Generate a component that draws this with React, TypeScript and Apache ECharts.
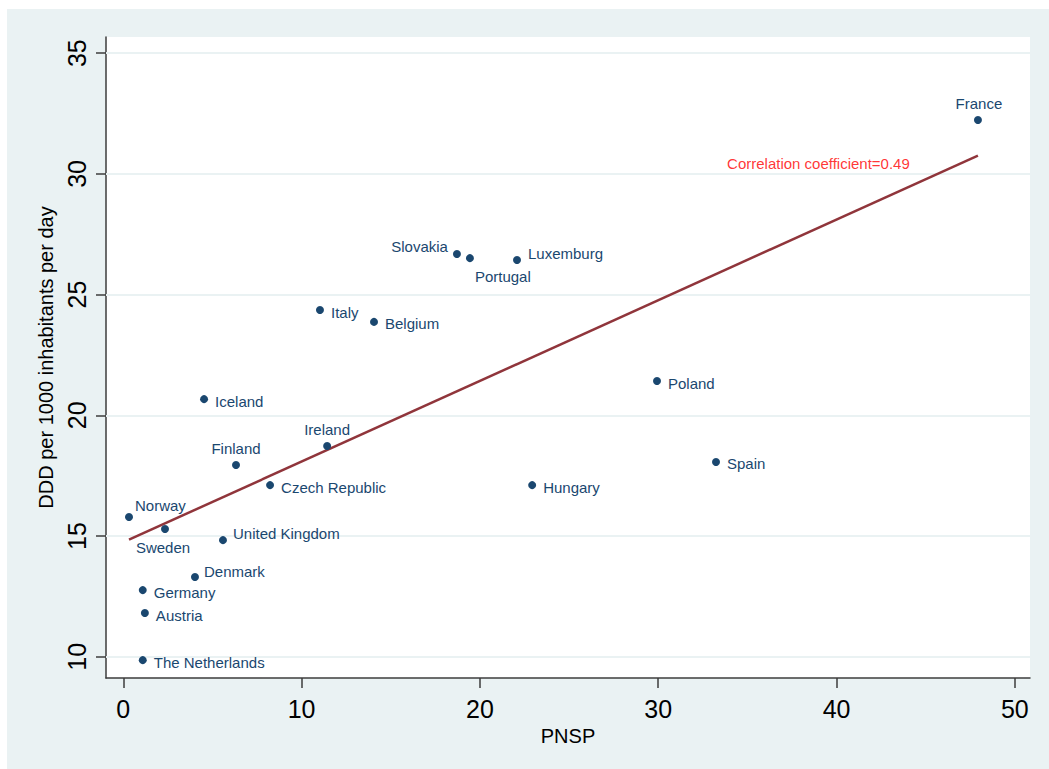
import React, { useEffect, useRef } from "react";
import * as echarts from "echarts";

// ---- data ----
const countries = [
  "France", "Slovakia", "Portugal", "Luxemburg", "Italy", "Belgium", "Poland",
  "Iceland", "Ireland", "Finland", "Spain", "Czech Republic", "Hungary",
  "Norway", "Sweden", "United Kingdom", "Denmark", "Germany", "Austria",
  "The Netherlands",
];
const pnsp = [
  47.93, 18.71, 19.44, 22.08, 11.03, 14.06, 29.93,
  4.53, 11.43, 6.32, 33.24, 8.23, 22.93,
  0.32, 2.34, 5.59, 4.02, 1.09, 1.21,
  1.09,
];
const ddd = [
  32.23, 26.68, 26.51, 26.43, 24.36, 23.87, 21.42,
  20.67, 18.73, 17.94, 18.07, 17.11, 17.11,
  15.79, 15.29, 14.83, 13.30, 12.76, 11.81,
  9.86,
];
// fitted regression line (endpoints in data units)
const fitX = [0.32, 47.93];
const fitY = [14.85, 30.76];
const xTicks = [0, 10, 20, 30, 40, 50];
const yTicks = [10, 15, 20, 25, 30, 35];
const annotationText = "Correlation coefficient=0.49";
const annotationAt = [33.86, 30.45];

// ---- label styling (placement per country) ----
const labelPlacement: Record<string, { position: string; offset: number[] }> = {
  France: { position: "top", offset: [1, 0] },
  Slovakia: { position: "left", offset: [0, -8] },
  Portugal: { position: "right", offset: [-4, 18] },
  Luxemburg: { position: "right", offset: [2, -7] },
  Ireland: { position: "top", offset: [0, 0] },
  Finland: { position: "top", offset: [0, 0] },
  Norway: { position: "right", offset: [-3, -11] },
  Sweden: { position: "bottom", offset: [-2, 2] },
  "United Kingdom": { position: "right", offset: [1, -7] },
  Denmark: { position: "right", offset: [0, -6] },
};

const NAVY = "#1A476F";
const FONT = "'Liberation Sans', Arial, sans-serif";

export default function App() {
  const ref = useRef<HTMLDivElement>(null);
  useEffect(() => {
    if (!ref.current) return;
    const chart = echarts.init(ref.current, null, { renderer: "svg" });
    const points = countries.map((name, i) => {
      const p = labelPlacement[name] || { position: "right", offset: [2, 2] };
      return {
        name,
        value: [pnsp[i], ddd[i]],
        label: { position: p.position, offset: p.offset },
      };
    });
    chart.setOption({
      animation: false,
      backgroundColor: "transparent",
      textStyle: { fontFamily: FONT },
      grid: {
        left: 99,
        top: 28,
        right: 19,
        bottom: 91,
        show: true,
        backgroundColor: "#ffffff",
        borderWidth: 0,
      },
      xAxis: {
        type: "value",
        min: -0.97,
        max: 50.85,
        name: "PNSP",
        nameLocation: "middle",
        nameGap: 43,
        nameTextStyle: { fontSize: 20, color: "#000", fontFamily: FONT },
        axisLine: { show: true, onZero: false, lineStyle: { color: "#3c3c3c", width: 1.5 } },
        axisTick: { show: true, length: 10, customValues: xTicks, lineStyle: { color: "#3c3c3c", width: 1.5 } },
        axisLabel: { customValues: xTicks, fontSize: 25, color: "#000", margin: 18, fontFamily: FONT },
        splitLine: { show: false },
      },
      yAxis: {
        type: "value",
        min: 9.12,
        max: 35.67,
        name: "DDD per 1000 inhabitants per day",
        nameLocation: "middle",
        nameGap: 32,
        nameRotate: 90,
        nameTextStyle: { fontSize: 20, color: "#000", fontFamily: FONT },
        axisLine: { show: true, onZero: false, lineStyle: { color: "#3c3c3c", width: 1.5 } },
        axisTick: { show: true, length: 10, customValues: yTicks, lineStyle: { color: "#3c3c3c", width: 1.5 } },
        axisLabel: { customValues: yTicks, fontSize: 25, color: "#000", margin: 17, rotate: 90, fontFamily: FONT },
        splitLine: { show: false },
      },
      series: [
        {
          type: "line",
          data: [],
          silent: true,
          z: 1,
          markLine: {
            z: 1,
            silent: true,
            symbol: "none",
            label: { show: false },
            lineStyle: { color: "#EAF2F3", width: 2, type: "solid" },
            data: yTicks.map((v) => ({ yAxis: v })),
          },
        },
        {
          type: "line",
          data: fitX.map((x, i) => [x, fitY[i]]),
          symbol: "none",
          silent: true,
          z: 8,
          lineStyle: { color: "#90353B", width: 2.5 },
        },
        {
          type: "scatter",
          data: points,
          symbol: "circle",
          symbolSize: 8,
          z: 10,
          itemStyle: { color: NAVY, opacity: 1 },
          label: {
            show: true,
            formatter: "{b}",
            fontSize: 15,
            color: NAVY,
            distance: 5,
            textBorderWidth: 0,
            fontFamily: FONT,
          },
        },
        {
          type: "scatter",
          data: [{ name: annotationText, value: annotationAt }],
          symbolSize: 0,
          silent: true,
          z: 11,
          label: {
            show: true,
            formatter: "{b}",
            position: "right",
            distance: 0,
            fontSize: 15,
            color: "#FF0000",
            textBorderWidth: 0,
            fontFamily: FONT,
          },
        },
      ],
    });
    return () => chart.dispose();
  }, []);
  return (
    <div
      style={{
        position: "fixed",
        left: 7,
        top: 9,
        width: 1042,
        height: 760,
        background: "#EAF2F3",
      }}
    >
      <div ref={ref} style={{ width: 1042, height: 760 }} />
    </div>
  );
}
